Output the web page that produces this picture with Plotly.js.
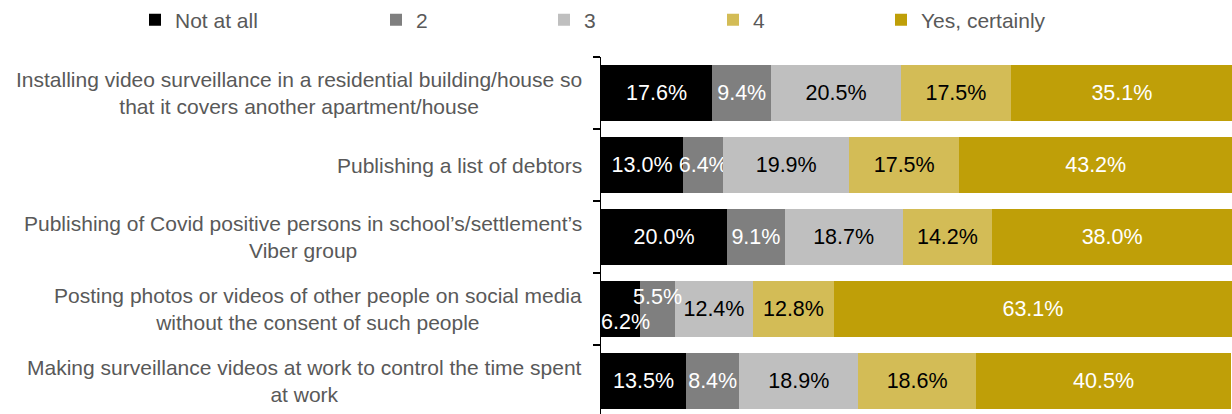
<!DOCTYPE html>
<html>
<head>
<meta charset="utf-8">
<script src="https://cdn.plot.ly/plotly-3.0.1.min.js"></script>
<style>html,body{margin:0;padding:0;background:#fff;}#chart{width:1232px;height:414px;}</style>
</head>
<body>
<div id="chart"></div>
<script>
const categories = [
  "Installing video surveillance in a residential building/house so<br>that it covers another apartment/house",
  "Publishing a list of debtors",
  "Publishing of Covid positive persons in school’s/settlement’s<br>Viber group",
  "Posting photos or videos of other people on social media<br>without the consent of such people",
  "Making surveillance videos at work to control the time spent<br>at work"
];
const seriesNames = ["Not at all", "2", "3", "4", "Yes, certainly"];
const notAtAll  = [17.6, 13.0, 20.0, 6.2, 13.5];
const two       = [9.4, 6.4, 9.1, 5.5, 8.4];
const three     = [20.5, 19.9, 18.7, 12.4, 18.9];
const four      = [17.5, 17.5, 14.2, 12.8, 18.6];
const yesCert   = [35.1, 43.2, 38.0, 63.1, 40.5];

const series = [notAtAll, two, three, four, yesCert];
const colors = ["#000000", "#7f7f7f", "#bfbfbf", "#d3bc56", "#bf9f08"];
const textColors = ["#ffffff", "#ffffff", "#000000", "#000000", "#ffffff"];
const legendTextX = [174, 415, 583, 752, 920];
const FONT = "Liberation Sans, Arial, sans-serif";

// the crowded row whose small labels are offset
const crowdedRow = 3;

const traces = series.map((vals, i) => ({
  type: "bar",
  orientation: "h",
  name: seriesNames[i],
  y: categories,
  x: vals,
  text: vals.map((v, j) => (j === crowdedRow && i < 2) ? "" : v.toFixed(1) + "%"),
  textposition: "inside",
  insidetextanchor: "middle",
  constraintext: "none",
  textangle: 0,
  textfont: {family: FONT, size: 21.5, color: textColors[i]},
  marker: {color: colors[i], line: {width: 0}},
  width: 0.79,
  legend: i === 0 ? "legend" : "legend" + (i + 1),
  hoverinfo: "x+name"
}));

const annotations = categories.map(c => ({
  xref: "paper", yref: "y", x: 0, y: c,
  xanchor: "right", yanchor: "middle", xshift: -17,
  text: c, align: "center", showarrow: false,
  font: {family: FONT, size: 21, color: "#595959"}
}));

// offset labels for the crowded row
let cum = 0;
[0, 1].forEach(i => {
  const v = series[i][crowdedRow];
  annotations.push({
    xref: "x", yref: "y", x: cum + v / 2, y: categories[crowdedRow],
    xanchor: "center", yanchor: "middle",
    yshift: i === 0 ? -13 : 12, xshift: i === 0 ? 5 : 0,
    text: v.toFixed(1) + "%", showarrow: false,
    font: {family: FONT, size: 21.5, color: "#ffffff"}
  });
  cum += v;
});

const layout = {
  width: 1232, height: 414,
  margin: {l: 601, r: 0, t: 57, b: 0, pad: 0},
  paper_bgcolor: "#ffffff", plot_bgcolor: "#ffffff",
  barmode: "stack",
  bargap: 0.21,
  showlegend: true,
  xaxis: {range: [0, 100], showticklabels: false, showgrid: false, zeroline: false, showline: false, fixedrange: true},
  yaxis: {
    type: "category",
    autorange: false,
    range: [4.458, -0.5],
    showticklabels: false,
    showgrid: false, zeroline: false,
    showline: true, linecolor: "#000000", linewidth: 1.5,
    ticks: "outside", tickson: "boundaries", ticklen: 7, tickcolor: "#000000", tickwidth: 1.5,
    fixedrange: true
  },
  annotations: annotations
};
seriesNames.forEach((n, i) => {
  layout[i === 0 ? "legend" : "legend" + (i + 1)] = {
    orientation: "h",
    xref: "container", yref: "container",
    x: (legendTextX[i] - 39) / 1232, xanchor: "left",
    y: 1 - 20 / 414, yanchor: "middle",
    bgcolor: "rgba(0,0,0,0)", borderwidth: 0,
    font: {family: FONT, size: 21, color: "#595959"},
    itemclick: false, itemdoubleclick: false
  };
});

Plotly.newPlot("chart", traces, layout, {displayModeBar: false, staticPlot: true});
</script>
</body>
</html>
